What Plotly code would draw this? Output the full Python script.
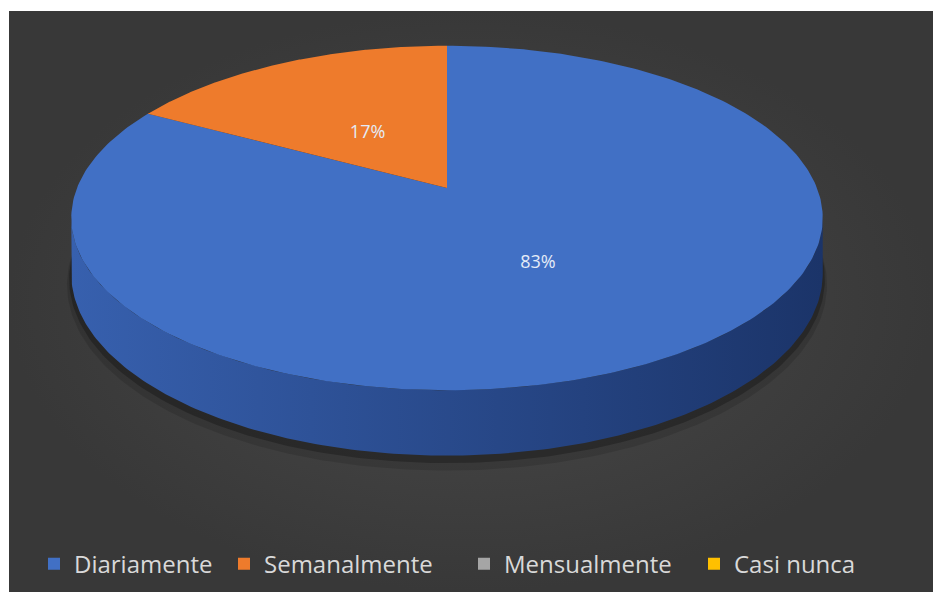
import numpy as np
import plotly.graph_objects as go

# --- data ---
categories = ["Diariamente", "Semanalmente", "Mensualmente", "Casi nunca"]
values = [83, 17, 0, 0]
top_colors = ["#4170C5", "#EE7B2C", "#A5A5A5", "#FFC000"]
side_colors = [("#3760AE", "#1B3469"), ("#B85A1C", "#8A4213"), ("#7F7F7F", "#5F5F5F"), ("#C79600", "#9A7400")]

# --- geometry of the tilted disc (pixel space) ---
W, H = 933, 592
CX, CY = 447, 188
RX, RY = 370, 167
PERSP = 0.174
DEPTH = 54
LABEL_R = 0.45
LEGEND_X = [34, 224, 464, 694]   # left edge of each legend entry, px


def project(phi, r=1.0, drop=0.0):
    """phi in degrees, clockwise from 12 o'clock."""
    a = np.radians(phi)
    X = r * np.sin(a)
    Z = r * np.cos(a)
    s = 1.0 / (1.0 + PERSP * Z)
    return CX + RX * X * s, CY - RY * Z * s + drop * s


# silhouette angle of the cylinder (widest point on the right)
grid = np.linspace(60, 140, 2001)
sil = grid[np.argmax(np.sin(np.radians(grid)) / (1 + PERSP * np.cos(np.radians(grid))))]

fig = go.Figure()

# background panel with soft radial light
fig.add_trace(go.Scatter(
    x=[9, W, W, 9, 9], y=[11, 11, H, H, 11], mode="lines", line=dict(width=0),
    fill="toself", fillcolor="#424242",
    fillgradient=dict(type="radial", colorscale=[[0, "#4a4a4a"], [1, "#383838"]]),
    hoverinfo="skip", showlegend=False))

# soft shadow under the pie
full = np.linspace(0, 360, 361)
for extra, op in [(10, 0.12), (5, 0.25)]:
    sx, sy = project(full, r=1.0 + extra / 900, drop=DEPTH + extra)
    fig.add_trace(go.Scatter(x=sx, y=sy, mode="lines", line=dict(width=0), fill="toself",
                             fillcolor=f"rgba(0,0,0,{op})", hoverinfo="skip", showlegend=False))

total = sum(values)
bounds = np.concatenate([[0], np.cumsum(values)]) / total * 360

# side walls (front half only)
for i, v in enumerate(values):
    if v == 0:
        continue
    a0, a1 = max(bounds[i], sil), min(bounds[i + 1], 360 - sil)
    if a1 <= a0:
        continue
    ph = np.linspace(a0, a1, 200)
    tx, ty = project(ph)
    bx, by = project(ph[::-1], drop=DEPTH)
    fig.add_trace(go.Scatter(
        x=np.concatenate([tx, bx, tx[:1]]), y=np.concatenate([ty, by, ty[:1]]),
        mode="lines", line=dict(width=0), fill="toself", fillcolor=side_colors[i][0],
        fillgradient=dict(type="horizontal",
                          colorscale=[[0, side_colors[i][0]], [1, side_colors[i][1]]]),
        hoverinfo="skip", showlegend=False))

# top faces
for i, v in enumerate(values):
    if v == 0:
        continue
    ph = np.linspace(bounds[i], bounds[i + 1], 300)
    ax, ay = project(ph)
    fig.add_trace(go.Scatter(
        x=np.concatenate([[CX], ax, [CX]]), y=np.concatenate([[CY], ay, [CY]]),
        mode="lines", line=dict(width=0), fill="toself", fillcolor=top_colors[i],
        hoverinfo="skip", showlegend=False))

# percentage labels
lx, ly, lt = [], [], []
for i, v in enumerate(values):
    if v == 0:
        continue
    x, y = project((bounds[i] + bounds[i + 1]) / 2, r=LABEL_R)
    lx.append(x)
    ly.append(y + 6)
    lt.append(f"{round(v / total * 100)}%")
fig.add_trace(go.Scatter(x=lx, y=ly, text=lt, mode="text",
                         textfont=dict(family="Open Sans", size=18, color="#e4ebf7"),
                         hoverinfo="skip", showlegend=False))

# legend entries, one small legend each so they sit where Excel put them
legend_layout = {}
for i, (name, col) in enumerate(zip(categories, top_colors)):
    key = "legend" if i == 0 else f"legend{i + 1}"
    fig.add_trace(go.Scatter(x=[None], y=[None], mode="markers", name=name, legend=key,
                             marker=dict(symbol="square", size=12, color=col)))
    legend_layout[key] = dict(
        orientation="h", x=LEGEND_X[i] / W, xanchor="left", y=0.047, yanchor="middle",
        font=dict(family="Open Sans", size=24, color="#d9d9d9"),
        bgcolor="rgba(0,0,0,0)", itemwidth=30)

fig.update_xaxes(range=[0, W], visible=False, fixedrange=True)
fig.update_yaxes(range=[H, 0], visible=False, fixedrange=True)
fig.update_layout(
    width=W, height=H,
    margin=dict(l=0, r=0, t=0, b=0),
    paper_bgcolor="white", plot_bgcolor="white",
    **legend_layout,
)

fig.write_html("out.html", config={"displayModeBar": False},
               post_script="document.body.style.margin='0';")
